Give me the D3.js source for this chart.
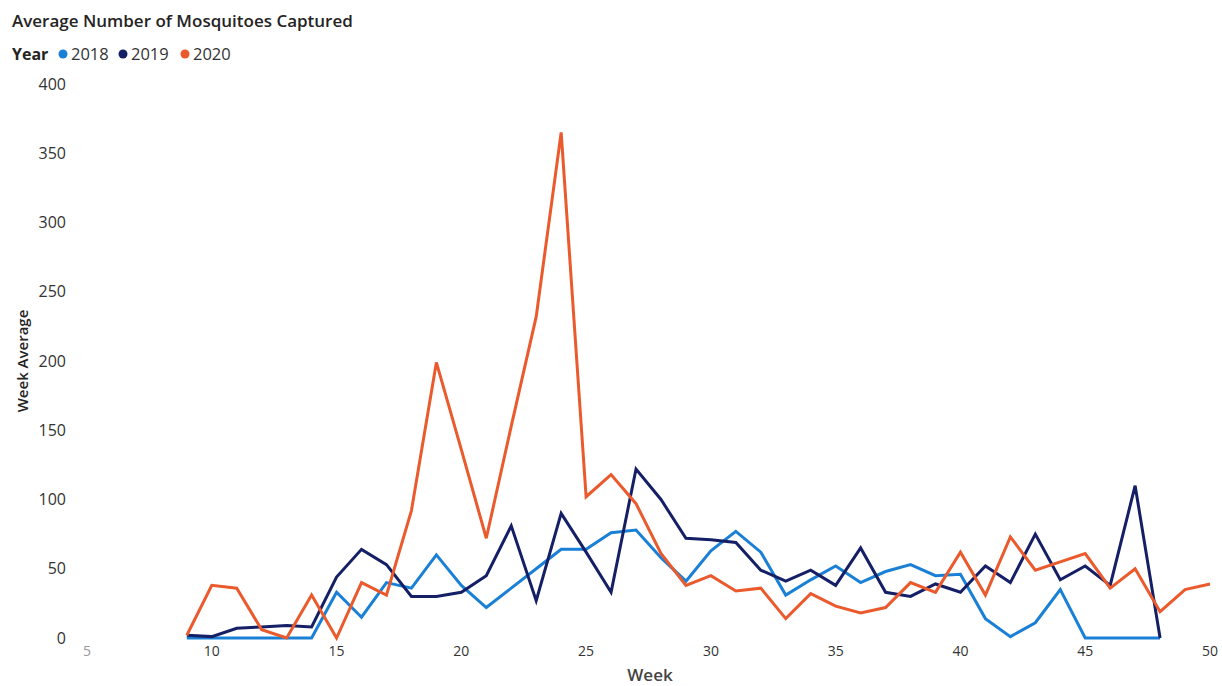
<!DOCTYPE html>
<html>
<head>
<meta charset="utf-8">
<script src="https://cdn.jsdelivr.net/npm/d3@7"></script>
<style>
  body { margin: 0; background: #fff; }
  text { font-family: "Open Sans", "Noto Sans", sans-serif; }
</style>
</head>
<body>
<div id="chart"></div>
<script>
// weeks and values
const weeks2018 = d3.range(9, 49);
const values2018 = [0, 0, 0, 0, 0, 0, 33, 15, 40, 36, 60, 38, 22, 36, 50, 64, 64, 76, 78, 58, 41, 63, 77, 62, 31, 42, 52, 40, 48, 53, 45, 46, 14, 1, 11, 35, 0, 0, 0, 0];

const weeks2019 = d3.range(9, 49);
const values2019 = [2, 1, 7, 8, 9, 8, 44, 64, 53, 30, 30, 33, 45, 81, 27, 90, 62, 33, 122, 100, 72, 71, 69, 49, 41, 49, 38, 65, 33, 30, 39, 33, 52, 40, 75, 42, 52, 38, 110, 0];

const weeks2020 = d3.range(9, 51);
const values2020 = [2, 38, 36, 6, 0, 31, 0, 40, 31, 92, 199, 136, 72, 153, 232, 365, 102, 118, 97, 61, 38, 45, 34, 36, 14, 32, 23, 18, 22, 40, 33, 62, 31, 73, 49, 55, 61, 36, 50, 19, 35, 39];

const years = ["2018", "2019", "2020"];
const colors = ["#1a80d6", "#141f66", "#ea5a2c"];
const xTicks = [5, 10, 15, 20, 25, 30, 35, 40, 45, 50];
const yTicks = [0, 50, 100, 150, 200, 250, 300, 350, 400];

const width = 1222, height = 686;
const svg = d3.select("#chart").append("svg")
    .attr("width", width)
    .attr("height", height);

const x = d3.scaleLinear().domain([5, 50]).range([87, 1210]);
const y = d3.scaleLinear().domain([0, 400]).range([638, 84]);

// title
svg.append("text")
    .attr("x", 12).attr("y", 27)
    .attr("font-size", 17).attr("font-weight", 600)
    .attr("fill", "#252423")
    .text("Average Number of Mosquitoes Captured");

// legend
const legend = svg.append("g");
legend.append("text")
    .attr("x", 12).attr("y", 60)
    .attr("font-size", 16).attr("font-weight", 700)
    .attr("fill", "#252423")
    .text("Year");
const legX = [63, 123, 185];
years.forEach(function (yr, i) {
    legend.append("circle")
        .attr("cx", legX[i]).attr("cy", 54).attr("r", 4.5)
        .attr("fill", colors[i]);
    legend.append("text")
        .attr("x", legX[i] + 8).attr("y", 60)
        .attr("font-size", 16.5)
        .attr("fill", "#333")
        .text(yr);
});

// y axis labels
svg.append("g")
    .selectAll("text")
    .data(yTicks)
    .enter()
    .append("text")
        .attr("x", 66)
        .attr("y", d => y(d) + 5.5)
        .attr("text-anchor", "end")
        .attr("font-size", 16)
        .attr("fill", "#333")
        .text(d => d);

svg.append("text")
    .attr("transform", "translate(28," + 361 + ") rotate(-90)")
    .attr("text-anchor", "middle")
    .attr("font-size", 15).attr("font-weight", 600)
    .attr("fill", "#252423")
    .text("Week Average");

// x axis labels
svg.append("g")
    .selectAll("text")
    .data(xTicks)
    .enter()
    .append("text")
        .attr("x", d => x(d))
        .attr("y", 656)
        .attr("text-anchor", "middle")
        .attr("font-size", 14)
        .attr("fill", d => d === 5 ? "#999" : "#333")
        .text(d => d);

svg.append("text")
    .attr("x", 650).attr("y", 681)
    .attr("text-anchor", "middle")
    .attr("font-size", 17).attr("font-weight", 600)
    .attr("fill", "#444")
    .text("Week");

// lines
const series = [
    { weeks: weeks2018, values: values2018 },
    { weeks: weeks2019, values: values2019 },
    { weeks: weeks2020, values: values2020 }
];
const line = d3.line()
    .x(d => x(d[0]))
    .y(d => y(d[1]));

series.forEach(function (s, i) {
    svg.append("path")
        .datum(s.weeks.map((w, j) => [w, s.values[j]]))
        .attr("fill", "none")
        .attr("stroke", colors[i])
        .attr("stroke-width", 3)
        .attr("stroke-linejoin", "miter")
        .attr("d", line);
});
</script>
</body>
</html>
